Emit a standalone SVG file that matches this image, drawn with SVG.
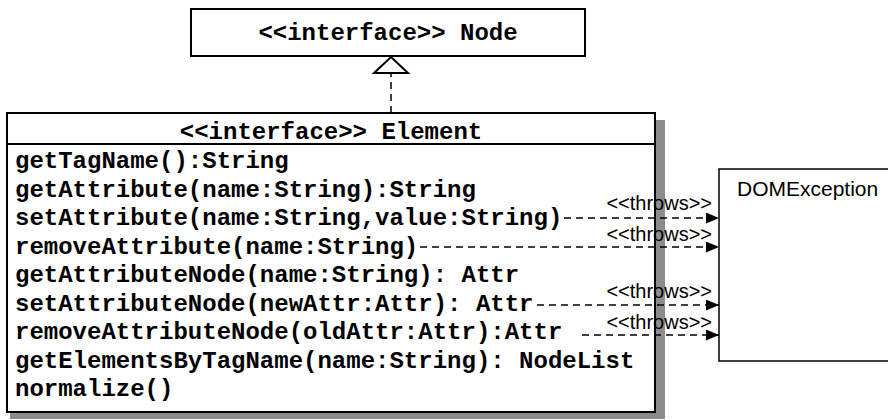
<svg xmlns="http://www.w3.org/2000/svg" width="888" height="420" viewBox="0 0 888 420">
<defs>
<style>
.box{fill:#fff;stroke:#000;stroke-width:2}
.mono{font-family:"Liberation Mono","Courier New",monospace;font-weight:bold;font-size:24px;fill:#000}
.sans{font-family:"Liberation Sans",Arial,sans-serif;fill:#000}
.dash{fill:none;stroke:#000;stroke-width:1.5;stroke-dasharray:7,5}
.shadow{fill:#8c8c8c}
</style>
<marker id="arrow" markerWidth="13" markerHeight="11" refX="13" refY="5.5" orient="auto" markerUnits="userSpaceOnUse">
<path d="M0,0 L13,5.5 L0,11 Z" fill="#000"/>
</marker>
</defs>
<rect width="888" height="420" fill="#fff"/>

<g id="node-Node">
<rect class="box" x="191" y="9" width="394" height="47"/>
<text class="mono" x="388" y="40" text-anchor="middle">&lt;&lt;interface&gt;&gt; Node</text>
</g>

<g id="node-Element">
<rect class="shadow" x="10" y="120" width="655" height="299"/>
<rect class="box" x="7" y="113" width="648" height="299"/>
<line x1="7" y1="144" x2="655" y2="144" stroke="#000" stroke-width="2"/>
<text class="mono" x="331" y="139" text-anchor="middle">&lt;&lt;interface&gt;&gt; Element</text>
<text class="mono" x="15" y="168">getTagName():String</text>
<text class="mono" x="15" y="196.5">getAttribute(name:String):String</text>
<text class="mono" x="15" y="225">setAttribute(name:String,value:String)</text>
<text class="mono" x="15" y="253.5">removeAttribute(name:String)</text>
<text class="mono" x="15" y="282">getAttributeNode(name:String): Attr</text>
<text class="mono" x="15" y="310.5">setAttributeNode(newAttr:Attr): Attr</text>
<text class="mono" x="15" y="339">removeAttributeNode(oldAttr:Attr):Attr</text>
<text class="mono" x="15" y="367.5">getElementsByTagName(name:String): NodeList</text>
<text class="mono" x="15" y="396">normalize()</text>
</g>

<g id="node-DOMException">
<rect x="719" y="169" width="200" height="192" fill="#fff" stroke="#000" stroke-width="1.5"/>
<text class="sans" x="737" y="196" font-size="21">DOMException</text>
</g>

<g id="connectors">
<line class="dash" x1="391" y1="113" x2="391" y2="73"/>
<path d="M391,57 L408,73 L374,73 Z" fill="#fff" stroke="#000" stroke-width="2"/>
<line class="dash" x1="564" y1="218" x2="719" y2="218" marker-end="url(#arrow)"/>
<line class="dash" x1="420" y1="247" x2="719" y2="247" marker-end="url(#arrow)"/>
<line class="dash" x1="537" y1="305" x2="719" y2="305" marker-end="url(#arrow)"/>
<line class="dash" x1="582" y1="335" x2="719" y2="335" marker-end="url(#arrow)"/>
<g class="sans" font-size="20" text-anchor="end">
<text x="712" y="210">&lt;&lt;throws&gt;&gt;</text>
<text x="712" y="241">&lt;&lt;throws&gt;&gt;</text>
<text x="712" y="298">&lt;&lt;throws&gt;&gt;</text>
<text x="712" y="329">&lt;&lt;throws&gt;&gt;</text>
</g>
</g>
</svg>
